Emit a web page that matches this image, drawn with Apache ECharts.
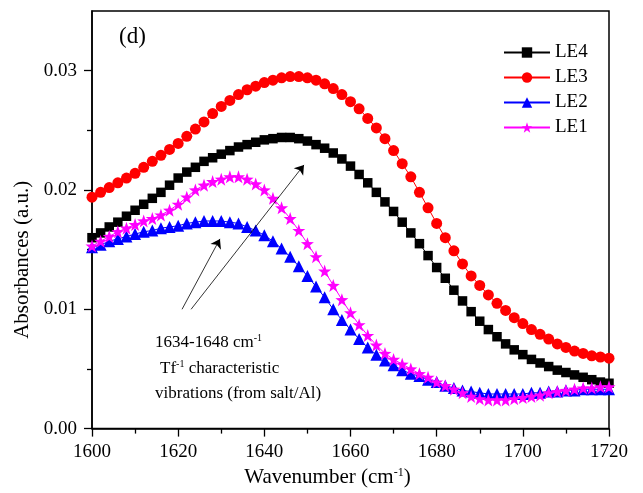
<!DOCTYPE html>
<html>
<head>
<meta charset="utf-8">
<script src="https://cdn.jsdelivr.net/npm/echarts@6/dist/echarts.min.js"></script>
<style>html,body{margin:0;padding:0;background:#fff}#c{width:643px;height:493px}</style>
</head>
<body>
<div id="c"></div>
<script>
var wavenumber = [1600,1602,1604,1606,1608,1610,1612,1614,1616,1618,1620,1622,1624,1626,1628,1630,1632,1634,1636,1638,1640,1642,1644,1646,1648,1650,1652,1654,1656,1658,1660,1662,1664,1666,1668,1670,1672,1674,1676,1678,1680,1682,1684,1686,1688,1690,1692,1694,1696,1698,1700,1702,1704,1706,1708,1710,1712,1714,1716,1718,1720];
var le4 = [0.0160,0.0164,0.0169,0.0173,0.0178,0.0183,0.0188,0.0193,0.0198,0.0204,0.0210,0.0215,0.0219,0.0224,0.0227,0.0230,0.0233,0.0236,0.0238,0.0240,0.0242,0.0243,0.0244,0.0244,0.0243,0.0241,0.0238,0.0235,0.0231,0.0226,0.0220,0.0213,0.0206,0.0198,0.0190,0.0182,0.0173,0.0164,0.0155,0.0145,0.0135,0.0126,0.0116,0.0107,0.0098,0.0090,0.0083,0.0077,0.0071,0.0066,0.0062,0.0058,0.0055,0.0052,0.0049,0.0047,0.0045,0.0043,0.0041,0.0039,0.0038];
var le3 = [0.0194,0.0198,0.0202,0.0206,0.0210,0.0214,0.0219,0.0224,0.0229,0.0234,0.0239,0.0245,0.0251,0.0257,0.0264,0.0270,0.0275,0.0280,0.0284,0.0287,0.0290,0.0292,0.0294,0.0295,0.0295,0.0294,0.0292,0.0289,0.0285,0.0280,0.0274,0.0268,0.0260,0.0252,0.0243,0.0233,0.0222,0.0211,0.0198,0.0185,0.0172,0.0160,0.0149,0.0138,0.0128,0.0120,0.0112,0.0105,0.0099,0.0093,0.0088,0.0083,0.0079,0.0075,0.0071,0.0068,0.0065,0.0063,0.0061,0.0060,0.0059];
var le2 = [0.0152,0.0154,0.0157,0.0159,0.0161,0.0163,0.0165,0.0166,0.0168,0.0169,0.0170,0.0172,0.0173,0.0174,0.0174,0.0174,0.0173,0.0172,0.0169,0.0166,0.0162,0.0157,0.0151,0.0144,0.0136,0.0128,0.0119,0.0110,0.0100,0.0091,0.0083,0.0075,0.0068,0.0062,0.0057,0.0053,0.0049,0.0046,0.0044,0.0041,0.0039,0.0036,0.0034,0.0032,0.0031,0.0030,0.0029,0.0029,0.0029,0.0029,0.0029,0.0030,0.0030,0.0031,0.0031,0.0032,0.0032,0.0033,0.0033,0.0033,0.0033];
var le1 = [0.0153,0.0157,0.0161,0.0165,0.0168,0.0171,0.0174,0.0176,0.0179,0.0183,0.0188,0.0194,0.0200,0.0204,0.0207,0.0209,0.0211,0.0211,0.0209,0.0205,0.0200,0.0193,0.0185,0.0176,0.0166,0.0155,0.0144,0.0132,0.0120,0.0108,0.0097,0.0087,0.0078,0.0070,0.0063,0.0058,0.0054,0.0050,0.0046,0.0043,0.0039,0.0036,0.0033,0.0030,0.0027,0.0025,0.0024,0.0024,0.0024,0.0025,0.0026,0.0027,0.0028,0.0030,0.0031,0.0032,0.0033,0.0034,0.0034,0.0035,0.0035];
var yMajor = [0, 0.01, 0.02, 0.03];
var yMinor = [0.005, 0.015, 0.025];
var seriesNames = ['LE4', 'LE3', 'LE2', 'LE1'];

var FONT = 'Liberation Serif';
function pairs(ys) { return wavenumber.map(function (x, i) { return [x, ys[i]]; }); }

var chart = echarts.init(document.getElementById('c'), null, {renderer: 'canvas'});
var base = {type: 'line', lineStyle: {width: 1}, z: 3, animation: false};
var option = {
  backgroundColor: '#fff',
  animation: false,
  grid: {left: 92, right: 34, top: 11, bottom: 59, show: true, borderColor: '#000', borderWidth: 1.5, backgroundColor: 'transparent'},
  legend: {
    orient: 'vertical', left: 498, top: 38, itemWidth: 46, itemHeight: 13, itemGap: 6,
    textStyle: {fontFamily: FONT, fontSize: 19, color: '#000', lineHeight: 19},
    data: seriesNames
  },
  xAxis: {
    type: 'value', min: 1600, max: 1720, interval: 20,
    axisLine: {lineStyle: {color: '#000', width: 1.5}},
    axisTick: {inside: false, length: 8, lineStyle: {color: '#000', width: 1.3}},
    minorTick: {show: true, splitNumber: 2, length: 5, lineStyle: {color: '#000', width: 1.3}},
    splitLine: {show: false},
    axisLabel: {fontFamily: FONT, fontSize: 19, color: '#000', margin: 14,
      formatter: function (v) { return String(v); }},
    name: '{a|Wavenumber (cm}{s|-1}{a|)}',
    nameLocation: 'middle', nameGap: 31,
    nameTextStyle: {padding: [0, 46, 0, 0], rich: {
      a: {fontFamily: FONT, fontSize: 21, color: '#000', lineHeight: 22},
      s: {fontFamily: FONT, fontSize: 12, color: '#000', verticalAlign: 'top', lineHeight: 22}
    }}
  },
  yAxis: [{
    type: 'value', min: 0, max: 0.035, interval: 0.01,
    axisLine: {lineStyle: {color: '#000', width: 1.5}},
    axisTick: {length: 8, customValues: yMajor, lineStyle: {color: '#000', width: 1.3}},
    splitLine: {show: false},
    axisLabel: {fontFamily: FONT, fontSize: 19, color: '#000', margin: 15, customValues: yMajor,
      formatter: function (v) { return v.toFixed(2); }},
    name: 'Absorbances (a.u.)',
    nameLocation: 'middle', nameGap: 56, nameRotate: 90,
    nameTextStyle: {fontFamily: FONT, fontSize: 21, color: '#000', padding: [0, 80, 0, 0]}
  }, {
    type: 'value', min: 0, max: 0.035, position: 'left',
    axisLine: {show: false},
    axisTick: {show: true, length: 5, customValues: yMinor, lineStyle: {color: '#000', width: 1.3}},
    axisLabel: {show: false},
    splitLine: {show: false}
  }],
  series: [
    Object.assign({}, base, {name: 'LE4', data: pairs(le4), symbol: 'rect', symbolSize: 9.5,
      itemStyle: {color: '#000000'}, lineStyle: {width: 1, color: '#000000'}}),
    Object.assign({}, base, {name: 'LE3', data: pairs(le3), symbol: 'circle', symbolSize: 11,
      itemStyle: {color: '#ff0000'}, lineStyle: {width: 1, color: '#ff0000'}}),
    Object.assign({}, base, {name: 'LE2', data: pairs(le2), symbol: 'triangle', symbolSize: 12,
      itemStyle: {color: '#0000ff'}, lineStyle: {width: 1, color: '#0000ff'}}),
    Object.assign({}, base, {name: 'LE1', data: pairs(le1),
      symbol: 'path://M0,-10L2.35,-3.24L9.51,-3.09L3.8,1.24L5.88,8.09L0,4L-5.88,8.09L-3.8,1.24L-9.51,-3.09L-2.35,-3.24Z',
      symbolSize: 13,
      itemStyle: {color: '#ff00ff'}, lineStyle: {width: 1, color: '#ff00ff'},
      markLine: {
        silent: true, symbol: ['none', 'arrow'], symbolSize: 9, animation: false,
        label: {show: false},
        lineStyle: {color: '#000', width: 0.8, type: 'solid'},
        itemStyle: {color: '#000'},
        data: [
          [{coord: [1620.9, 0.0100]}, {coord: [1629.7, 0.0159]}],
          [{coord: [1623.0, 0.0100]}, {coord: [1649.2, 0.0221]}]
        ]
      }})
  ],
  graphic: [
    {type: 'text', left: 119, top: 25, style: {text: '(d)', fontFamily: FONT, fontSize: 23, fill: '#000'}},
    {type: 'text', left: 155, top: 333, style: {
      text: '{a|1634-1648 cm}{s|-1}',
      rich: {a: {fontFamily: FONT, fontSize: 17, fill: '#000', lineHeight: 20},
             s: {fontFamily: FONT, fontSize: 10, fill: '#000', verticalAlign: 'top', lineHeight: 20}}}},
    {type: 'text', left: 160, top: 359, style: {
      text: '{a|Tf}{s|-1}{a| characteristic}',
      rich: {a: {fontFamily: FONT, fontSize: 17, fill: '#000', lineHeight: 20},
             s: {fontFamily: FONT, fontSize: 10, fill: '#000', verticalAlign: 'top', lineHeight: 20}}}},
    {type: 'text', left: 155, top: 385, style: {text: 'vibrations (from salt/Al)', fontFamily: FONT, fontSize: 17, fill: '#000'}}
  ]
};
chart.setOption(option);
</script>
</body>
</html>
